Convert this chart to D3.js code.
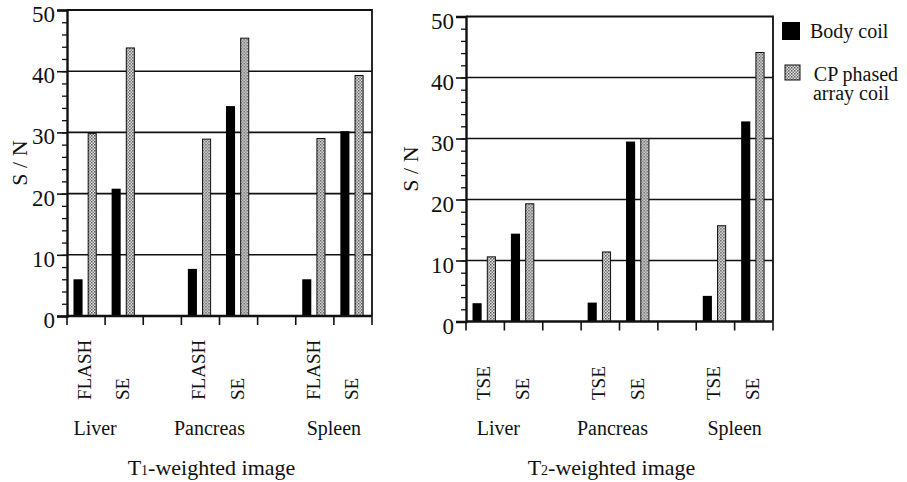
<!DOCTYPE html>
<html>
<head>
<meta charset="utf-8">
<script src="https://cdn.jsdelivr.net/npm/d3@7"></script>
</head>
<body style="margin:0;background:#fff">
<svg id="chart" width="907" height="482"></svg>
<script>
// ---- data ----
const organs = ["Liver", "Pancreas", "Spleen"];
const t1Sequences = ["FLASH", "SE"];
const t2Sequences = ["TSE", "SE"];
const seriesNames = ["Body coil", "CP phased array coil"];

// values in organ order, two sequences per organ
const t1Body = [6.0, 20.8, 7.7, 34.3, 6.0, 30.2];
const t1Cp = [29.8, 43.8, 28.9, 45.4, 29.0, 39.3];
const t2Body = [3.0, 14.4, 3.1, 29.5, 4.2, 32.8];
const t2Cp = [10.6, 19.3, 11.4, 30.0, 15.7, 44.1];

const yMajor = [0, 10, 20, 30, 40, 50];
const yMinor = d3.range(0, 51, 2);

const FONT = '"Liberation Serif"';

const svg = d3.select("#chart").style("font-family", FONT);
svg.append("rect").attr("width", 907).attr("height", 482).attr("fill", "#fff");

// dotted fill for the phased array bars
const defs = svg.append("defs");
const pat = defs.append("pattern")
  .attr("id", "dots")
  .attr("patternUnits", "userSpaceOnUse")
  .attr("width", 3).attr("height", 3);
pat.append("rect").attr("width", 3).attr("height", 3).attr("fill", "#e6e6e6");
pat.append("rect").attr("x", 0).attr("y", 0).attr("width", 1.5).attr("height", 1.5).attr("fill", "#555");
pat.append("rect").attr("x", 1.5).attr("y", 1.5).attr("width", 1.5).attr("height", 1.5).attr("fill", "#777");

function label(sel, size) {
  return sel.style("font-family", FONT).style("font-size", size + "px").attr("fill", "#111");
}

function drawPanel(opts) {
  const { x0, x1, yBottom, yTop, sequences, body, cp, title, labelNudge } = opts;

  // 8 slots: two sequences per organ with an empty slot between organs
  const slots = [];
  const rows = [];
  organs.forEach((o, i) => {
    sequences.forEach((s, j) => {
      const key = o + "|" + s;
      slots.push(key);
      rows.push({ key, seq: s, organ: o, body: body[i * 2 + j], cp: cp[i * 2 + j] });
    });
    if (i < organs.length - 1) slots.push("gap" + i);
  });

  const x = d3.scaleBand().domain(slots).range([x0, x1]);
  const bw = x.bandwidth();
  const xs = d3.scaleBand().domain(seriesNames)
    .range([bw * 0.17, bw * 0.78]).paddingInner(0.36);
  const y = d3.scaleLinear().domain([0, 50]).range([yBottom, yTop]);

  const g = svg.append("g");

  // gridlines
  g.append("g").selectAll("line")
    .data(yMajor.filter((d) => d > 0 && d < 50))
    .join("line")
    .attr("x1", x0).attr("x2", x1)
    .attr("y1", (d) => y(d)).attr("y2", (d) => y(d))
    .attr("stroke", "#111").attr("stroke-width", 1.6);

  // bars
  const bars = g.append("g").selectAll("g").data(rows).join("g")
    .attr("transform", (d) => `translate(${x(d.key)},0)`);
  bars.append("rect")
    .attr("x", xs("Body coil"))
    .attr("width", xs.bandwidth())
    .attr("y", (d) => y(d.body))
    .attr("height", (d) => y(0) - y(d.body))
    .attr("fill", "#000");
  bars.append("rect")
    .attr("x", xs("CP phased array coil") + 0.5)
    .attr("width", xs.bandwidth() - 1)
    .attr("y", (d) => y(d.cp))
    .attr("height", (d) => y(0) - y(d.cp))
    .attr("fill", "url(#dots)")
    .attr("stroke", "#111").attr("stroke-width", 1);

  // frame: top + right
  g.append("path")
    .attr("d", `M${x0},${y(50)}H${x1}V${y(0)}`)
    .attr("fill", "none").attr("stroke", "#111").attr("stroke-width", 1.8);

  // y axis, minor + major ticks
  g.append("g").attr("transform", `translate(${x0},0)`)
    .call(d3.axisLeft(y).tickValues(yMinor).tickSize(5).tickFormat(""))
    .call((a) => a.select(".domain").remove())
    .call((a) => a.selectAll("line").attr("stroke", "#111").attr("stroke-width", 1.3));
  g.append("g").attr("transform", `translate(${x0},0)`)
    .call(d3.axisLeft(y).tickValues(yMajor).tickSize(10).tickPadding(2))
    .call((a) => a.select(".domain").attr("stroke", "#111").attr("stroke-width", 2.4))
    .call((a) => a.selectAll("line").attr("stroke", "#111").attr("stroke-width", 1.6))
    .call((a) => label(a.selectAll("text").attr("dy", "0.5em"), 23));

  // x axis: ticks on slot edges
  const edges = slots.map((s) => x(s)).concat([x1]);
  g.append("line")
    .attr("x1", x0).attr("x2", x1)
    .attr("y1", y(0)).attr("y2", y(0))
    .attr("stroke", "#111").attr("stroke-width", 2.4);
  g.append("g").selectAll("line").data(edges).join("line")
    .attr("x1", (d) => d).attr("x2", (d) => d)
    .attr("y1", y(0)).attr("y2", y(0) + 9)
    .attr("stroke", "#111").attr("stroke-width", 1.6);

  // sequence labels, rotated
  label(g.append("g").selectAll("text").data(rows).join("text"), 19)
    .attr("transform", (d) => `translate(${x(d.key) + bw / 2 + 5},400) rotate(-90)`)
    .attr("text-anchor", "start")
    .text((d) => d.seq);

  // organ labels
  label(g.append("g").selectAll("text").data(organs).join("text"), 20)
    .attr("x", (d, i) => {
      const a = x(d + "|" + sequences[0]);
      const b = x(d + "|" + sequences[1]) + bw;
      return (a + b) / 2 + labelNudge[i];
    })
    .attr("y", 435)
    .attr("text-anchor", "middle")
    .text((d) => d);

  // y title
  label(g.append("text"), 22)
    .attr("transform", `translate(${opts.yTitleX},${(y(0) + y(50)) / 2}) rotate(-90)`)
    .attr("text-anchor", "middle")
    .attr("dy", "0.35em")
    .text("S / N");

  // panel title with subscript digit
  const t = label(g.append("text"), 22)
    .attr("x", (x0 + x1) / 2 - 8)
    .attr("y", 475)
    .attr("text-anchor", "middle");
  t.append("tspan").text(title[0]);
  t.append("tspan").style("font-size", "14px").text(title[1]);
  t.append("tspan").text(title[2]);
}

drawPanel({
  x0: 67, x1: 372, yBottom: 316, yTop: 10,
  sequences: t1Sequences, body: t1Body, cp: t1Cp,
  title: ["T", "1", "-weighted image"],
  labelNudge: [-10, -10, 0],
  yTitleX: 19,
});

drawPanel({
  x0: 466, x1: 773, yBottom: 321.5, yTop: 16.5,
  sequences: t2Sequences, body: t2Body, cp: t2Cp,
  title: ["T", "2", "-weighted image"],
  labelNudge: [-6, -7, 0],
  yTitleX: 410,
});

// legend
const legend = svg.append("g").attr("transform", "translate(782,22)");
legend.append("rect").attr("width", 18).attr("height", 18).attr("fill", "#000");
label(legend.append("text"), 20).attr("x", 28).attr("y", 16).text("Body coil");
legend.append("rect").attr("x", 3).attr("y", 43).attr("width", 15).attr("height", 15)
  .attr("fill", "url(#dots)").attr("stroke", "#111").attr("stroke-width", 1);
const lt = label(legend.append("text"), 20).attr("text-anchor", "middle");
lt.append("tspan").attr("x", 74).attr("y", 59).text("CP phased");
lt.append("tspan").attr("x", 69).attr("y", 78).text("array coil");
</script>
</body>
</html>
